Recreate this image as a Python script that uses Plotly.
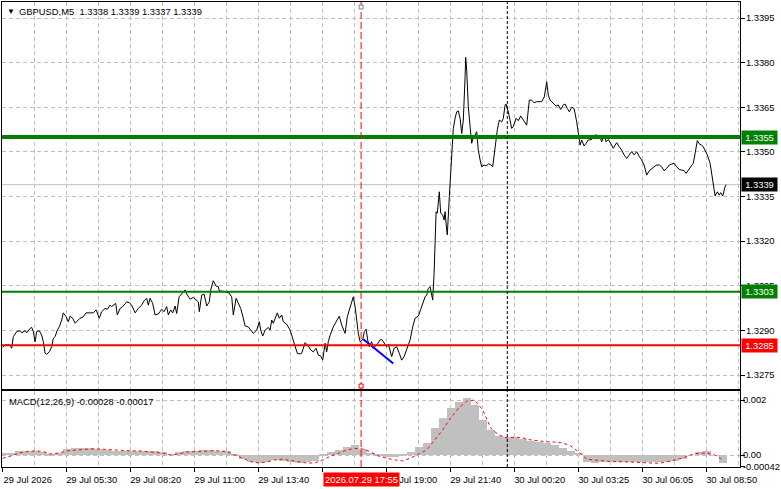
import plotly.graph_objects as go

# ---------------- data ----------------
bars = [0,1.2,3.7,4.5,5.3,7,8.7,9.5,11.2,12,13.7,14.5,15.3,16.2,17,18.3,19.5,20.3,21.2,22,23.3,24.5,25.3,26.2,27.3,28.3,29.5,30.3,31.7,32.8,33.7,35,36.2,37.3,38.7,40.3,41.7,43.7,45.3,46.7,47.3,48.3,49.5,51.2,52.3,53.7,54.5,55.7,56.5,57.3,58.7,60,61.2,62,63.3,64.5,66.2,67.8,69.5,70.7,72,72.8,73.7,75,76.2,77.8,79.5,80.7,82,82.8,84,85,86.2,87,88.2,89.5,91.2,92.3,93.7,95.3,96.5,97.8,98.3,99.5,100.7,102,103.3,104,105.3,106.7,107.8,108.3,110.7,113.3,114.5,115.3,116.7,117.8,119,
        120.3,121.2,122.8,124.5,125.3,127,128.3,129,130,131.2,132.8,133.7,134.5,135.3,136.7,137.3,138.3,139.5,140.3,142,143.7,145,146.2,147.3,148.7,149.5,151.2,152.8,154,155.3,156.7,157.8,159,160,161.2,162,162.8,163.7,165.3,167,168.3,169.5,171.2,172.3,173.7,175.3,176.2,177,177.8,178.7,180,180.8,181.7,182.5,183.3,184.5,185.3,187,188.7,189.5,190.7,192,192.8,193.7,194.5,195.7,197,198.3,199.5,200.7,202,203.7,205,206.2,207.8,209,210,211.2,212,212.8,213.7,214.5,215,215.7,216.2,216.7,217.3,218.3,219,220,220.7,221.2,222,222.3,223.3,224,224.8,225.3,226.2,227,227.8,228.7,229.5,230.3,231.2,231.5,232,232.8,233.7,234.5,235.3,236.2,237,237.8,238.7,239.5,240.7,241.7,242.8,243.7,
        245,246.2,247.3,248.3,249.5,250.3,251.2,251.7,252.8,254.5,255.3,256.7,257.8,259,260.3,262,263.3,264.5,265.7,267,269.5,270.8,272,272.8,273.7,275.3,276.7,277.8,279,280.3,281.2,282.3,283.3,284.5,285.7,287,287.8,288.7,289.5,290.7,291.7,292.8,294.5,296.2,297.3,298.7,299.5,300.7,301.7,302.8,304,305.3,306.2,307,308.3,309.5,310.7,312,313.3,314.5,315.7,317,318.3,319.5,320.7,322,323.3,324.5,325.7,327,328.3,329.5,330.7,332,333.3,334.5,335.7,337,338.3,339.5,340.7,341.7,342.8,344,345.3,346.2,347.3,348.3,349.5,350.3,351.2,352.3,353.7,354.5,355.3,356.2,357.3,358.3,359,360,361.2,361.7]

close = [1.32843,1.32851,1.32851,1.32840,1.32879,1.32896,1.32899,1.32892,1.32899,1.32892,1.32907,1.32910,1.32896,1.32862,1.32896,1.32899,1.32884,1.32862,1.32823,1.32820,1.32828,1.32845,1.32873,1.32879,1.32901,1.32912,1.32935,1.32959,1.32946,1.32929,1.32948,1.32941,1.32924,1.32933,1.32941,1.32946,1.32959,1.32959,1.32959,1.32969,1.32957,1.32941,1.32963,1.32974,1.32971,1.32985,1.32980,1.32988,1.32991,1.32952,1.32974,1.32980,1.32988,1.32996,1.32993,1.32985,1.32959,1.32974,1.32985,1.33000,1.33008,1.32985,1.33008,1.32991,1.32952,1.32955,1.32971,1.32963,1.32980,1.32952,1.32969,1.32959,1.32982,1.32957,1.33013,1.33022,1.33036,1.33019,1.33005,1.33011,1.33005,1.32996,1.32963,1.33019,1.33022,1.32982,1.32996,1.33036,1.33067,1.33049,1.33047,1.33033,1.33031,1.33025,1.33013,1.32952,1.33008,1.32991,1.32974,
         1.32941,1.32915,1.32912,1.32896,1.32890,1.32901,1.32929,1.32901,1.32881,1.32901,1.32910,1.32901,1.32935,1.32924,1.32952,1.32959,1.32941,1.32952,1.32929,1.32921,1.32901,1.32873,1.32851,1.32823,1.32821,1.32823,1.32859,1.32848,1.32834,1.32828,1.32840,1.32817,1.32814,1.32800,1.32857,1.32828,1.32862,1.32884,1.32912,1.32935,1.32948,1.32918,1.32890,1.32946,1.32980,1.33013,1.32980,1.32935,1.32890,1.32862,1.32868,1.32896,1.32904,1.32868,1.32845,1.32862,1.32840,1.32851,1.32868,1.32870,1.32857,1.32845,1.32854,1.32828,1.32812,1.32840,1.32845,1.32823,1.32800,1.32812,1.32834,1.32868,1.32912,1.32941,1.32948,1.32969,1.32991,1.33013,1.33019,1.33041,1.33047,1.33019,1.33002,1.33092,1.33204,1.33299,1.33294,1.33366,1.33294,1.33288,1.33271,1.33299,1.33237,1.33221,1.33349,1.33428,1.33540,1.33579,1.33613,1.33635,1.33638,1.33613,1.33562,1.33607,1.33753,1.33818,1.33775,1.33652,1.33585,1.33529,1.33551,1.33557,1.33568,1.33506,1.33473,1.33450,1.33456,1.33453,1.33459,1.33459,
         1.33450,1.33517,1.33574,1.33607,1.33601,1.33613,1.33658,1.33661,1.33635,1.33579,1.33585,1.33613,1.33605,1.33621,1.33607,1.33590,1.33674,1.33674,1.33665,1.33669,1.33669,1.33685,1.33736,1.33691,1.33674,1.33663,1.33654,1.33658,1.33643,1.33658,1.33661,1.33646,1.33635,1.33650,1.33646,1.33601,1.33562,1.33523,1.33540,1.33520,1.33529,1.33540,1.33542,1.33557,1.33556,1.33549,1.33534,1.33557,1.33534,1.33542,1.33529,1.33512,1.33523,1.33531,1.33517,1.33506,1.33490,1.33478,1.33490,1.33501,1.33490,1.33501,1.33484,1.33473,1.33456,1.33422,1.33437,1.33445,1.33450,1.33456,1.33456,1.33450,1.33437,1.33445,1.33456,1.33459,1.33462,1.33450,1.33441,1.33439,1.33437,1.33428,1.33439,1.33453,1.33462,1.33495,1.33538,1.33527,1.33523,1.33517,1.33506,1.33490,1.33462,1.33428,1.33394,1.33352,1.33366,1.33355,1.33363,1.33352,1.33383,1.33390]

macd_bars = list(range(0, 361, 4))
macd_hist = [0.7,0.7,1.5,1.6,1.6,1.1,-0.3,0.7,2.2,2.4,2.4,2.4,2.2,1.8,1.6,1.6,1.5,1.5,1.4,1.3,1.1,0.3,1.1,1.6,1.6,1.8,1.8,1.6,1.4,-0.3,
             -1.5,-2.5,-2.9,-2.5,-1.8,-2.2,-2.5,-2.9,-2.5,-2.2,-0.4,1.1,1.8,2.9,3.6,2.2,0.7,-0.4,-0.7,-0.7,-0.4,1.1,2.9,4.4,9.8,13.5,17.1,19.3,20.7,18.2,
             12.7,9.1,6.9,6.5,6.5,5.8,5.1,4.7,4.4,3.6,2.5,1.5,0.4,-2.5,-2.9,-2.5,-2.5,-2.5,-2.4,-2.5,-2.5,-2.5,-2.5,-2.5,-2.2,-1.5,0.0,1.1,1.3,0.0,-2.8]
macd_signal = [-1.2,-0.4,0.7,1.3,1.5,1.3,0.4,0.7,1.5,1.8,2.0,2.2,2.2,2.0,1.8,1.6,1.5,1.5,1.3,1.1,0.7,0.0,0.4,1.1,1.3,1.5,1.5,1.5,1.3,0.0,
               -1.1,-2.4,-2.9,-2.5,-1.8,-1.5,-2.0,-2.5,-2.9,-2.9,-1.8,-0.4,0.7,1.8,2.4,2.2,1.1,-0.4,-1.2,-1.8,-2.1,-1.1,0.4,1.8,5.5,9.1,13.5,17.1,19.6,20.0,
               16.4,9.8,7.3,6.2,6.5,6.2,5.5,5.1,4.8,4.7,4.4,3.3,1.1,-1.5,-1.8,-2.2,-2.4,-2.4,-2.5,-2.7,-2.9,-2.9,-3.0,-2.5,-1.8,-1.1,0.0,0.7,0.7,0.0,-1.7]

tick_bars = [0, 32, 64, 96, 128, 160, 192, 224, 256, 288, 320, 352]
tick_text = ["29 Jul 2026", "29 Jul 05:30", "29 Jul 08:20", "29 Jul 11:00", "29 Jul 13:40",
             "", "29 Jul 19:00", "29 Jul 21:40", "30 Jul 00:20", "30 Jul 03:25",
             "30 Jul 06:05", "30 Jul 08:50"]
grid_bars = list(range(16, 369, 32))
price_ticks = [1.3275, 1.3290, 1.3305, 1.3320, 1.3335, 1.3350, 1.3365, 1.3380, 1.3395]

level_hi = 1.3355
level_mid = 1.3303
level_lo = 1.3285
last_price = 1.3339
blue_seg_bars = [180.3, 195.3]
blue_seg_prices = [1.32870, 1.32789]
cursor_bar = 179.2
day_sep_bar = 252.3
title_text = "GBPUSD,M5  1.3338 1.3339 1.3337 1.3339"
macd_text = "MACD(12,26,9) -0.00028 -0.00017"
cursor_label = "2026.07.29 17:55"

# ---------------- figure ----------------
FONT = "Liberation Sans, Arial, sans-serif"
FS = 9.4
GRID = "#c0c0c0"
xr = [-0.35, 368.65]

fig = go.Figure()

fig.add_trace(go.Bar(x=macd_bars, y=[v * 1e-4 for v in macd_hist], width=4,
                     marker=dict(color="#c0c0c0", line=dict(width=0)),
                     xaxis="x2", yaxis="y2", showlegend=False))
fig.add_trace(go.Scatter(x=macd_bars, y=[v * 1e-4 for v in macd_signal], mode="lines",
                         line=dict(color="#ff0000", width=1, dash="3px,3px"),
                         xaxis="x2", yaxis="y2", showlegend=False))

fig.add_trace(go.Scatter(x=bars, y=close, mode="lines",
                         line=dict(color="#000000", width=1), showlegend=False))
fig.add_trace(go.Scatter(x=blue_seg_bars, y=blue_seg_prices, mode="lines",
                         line=dict(color="#0000ff", width=2), showlegend=False))

shapes = []
shapes.append(dict(type="line", xref="x domain", x0=0, x1=1, yref="y", y0=last_price, y1=last_price,
                   line=dict(color="#c0c0c0", width=1), layer="below"))
shapes.append(dict(type="line", xref="x domain", x0=0, x1=1, yref="y", y0=level_hi, y1=level_hi,
                   line=dict(color="#008000", width=4)))
shapes.append(dict(type="line", xref="x domain", x0=0, x1=1, yref="y", y0=level_mid, y1=level_mid,
                   line=dict(color="#008000", width=2)))
shapes.append(dict(type="line", xref="x domain", x0=0, x1=1, yref="y", y0=level_lo, y1=level_lo,
                   line=dict(color="#ff0000", width=2)))
for xref_, yref_ in (("x", "y domain"), ("x2", "y2 domain")):
    shapes.append(dict(type="line", xref=xref_, x0=cursor_bar, x1=cursor_bar, yref=yref_, y0=0, y1=1,
                       line=dict(color="#ff0000", width=1, dash="7px,3px")))
    shapes.append(dict(type="line", xref=xref_, x0=day_sep_bar, x1=day_sep_bar, yref=yref_, y0=0, y1=1,
                       line=dict(color="#000000", width=1, dash="3px,2px")))
# small cursor markers at top and bottom of the price panel
shapes.append(dict(type="rect", xref="x", xsizemode="pixel", xanchor=cursor_bar, x0=-2, x1=2,
                   yref="y domain", ysizemode="pixel", yanchor=1, y0=-7, y1=-3,
                   line=dict(color="#808080", width=1), fillcolor="#ffffff"))
shapes.append(dict(type="rect", xref="x", xsizemode="pixel", xanchor=cursor_bar, x0=-2, x1=2,
                   yref="y domain", ysizemode="pixel", yanchor=0, y0=1, y1=5,
                   line=dict(color="#ff0000", width=1), fillcolor="#ffffff"))

annotations = [
    dict(xref="paper", yref="paper", x=0, y=1, xshift=3, yshift=-3, text="▼", showarrow=False,
         xanchor="left", yanchor="top", font=dict(family=FONT, size=8, color="#000000")),
    dict(xref="paper", yref="paper", x=0, y=1, xshift=15, yshift=-2, text=title_text, showarrow=False,
         xanchor="left", yanchor="top", font=dict(family=FONT, size=FS, color="#000000")),
    dict(xref="x2", yref="y2 domain", x=xr[0], y=1, xshift=5, yshift=-3, text=macd_text, showarrow=False,
         xanchor="left", yanchor="top", font=dict(family=FONT, size=FS, color="#000000")),
    dict(xref="x2", yref="paper", x=cursor_bar, y=0, yshift=-5, text=cursor_label, showarrow=False,
         xanchor="center", yanchor="top", bgcolor="#ff0000", borderpad=1,
         font=dict(family=FONT, size=FS, color="#ffffff")),
]
for price, col in ((level_hi, "#008000"), (last_price, "#000000"), (level_mid, "#008000"), (level_lo, "#ff0000")):
    annotations.append(dict(xref="paper", yref="y", x=1, y=price, xshift=1, text=f"{price:.4f}",
                            showarrow=False, xanchor="left", yanchor="middle", bgcolor=col,
                            borderpad=1, width=33, align="center",
                            font=dict(family=FONT, size=FS, color="#ffffff")))

axis_common = dict(showline=True, linecolor="#000000", linewidth=1, mirror=True, zeroline=False,
                   automargin=False)

fig.update_layout(
    width=781, height=489,
    margin=dict(l=2, r=41, t=2, b=22, autoexpand=False),
    paper_bgcolor="#ffffff", plot_bgcolor="#ffffff",
    font=dict(family=FONT, size=FS, color="#000000"),
    showlegend=False, bargap=0,
    shapes=shapes, annotations=annotations,
    xaxis=dict(domain=[0, 1], anchor="y", range=xr, tickvals=tick_bars, ticktext=tick_text,
               showticklabels=False, ticks="", showgrid=True, gridcolor=GRID, griddash="4px,3px",
               minor=dict(tickvals=grid_bars, showgrid=True, gridcolor=GRID, griddash="4px,3px", ticks=""),
               **axis_common),
    xaxis2=dict(domain=[0, 1], anchor="y2", range=xr, tickvals=tick_bars, ticktext=tick_text,
                ticks="outside", ticklen=4, tickcolor="#000000", ticklabelshift=25, ticklabelstandoff=0,
                showgrid=True, gridcolor=GRID, griddash="4px,3px",
                minor=dict(tickvals=grid_bars, showgrid=True, gridcolor=GRID, griddash="4px,3px", ticks=""),
                tickfont=dict(family=FONT, size=FS, color="#000000"), **axis_common),
    yaxis=dict(domain=[0.1677, 1], anchor="x", side="right", range=[1.32703, 1.34004],
               tickvals=price_ticks, ticktext=[f"{p:.4f}" for p in price_ticks],
               ticks="outside", ticklen=4, tickcolor="#000000", ticklabelstandoff=-1,
               showgrid=True, gridcolor=GRID, griddash="4px,3px",
               tickfont=dict(family=FONT, size=FS, color="#000000"), **axis_common),
    yaxis2=dict(domain=[0, 0.1634], anchor="x2", side="right", range=[-0.000436, 0.002327],
                tickvals=[0.002, 0.0, -0.00042], ticktext=["0.002", "0.00", "-0.00042"],
                ticks="outside", ticklen=4, tickcolor="#000000", ticklabelstandoff=-4,
                showgrid=True, gridcolor=GRID, griddash="4px,3px",
                tickfont=dict(family=FONT, size=FS, color="#000000"), **axis_common),
)

fig.write_html("out.html", config={"displayModeBar": False},
               post_script="document.body.style.margin='0px';document.body.style.overflow='hidden';")
